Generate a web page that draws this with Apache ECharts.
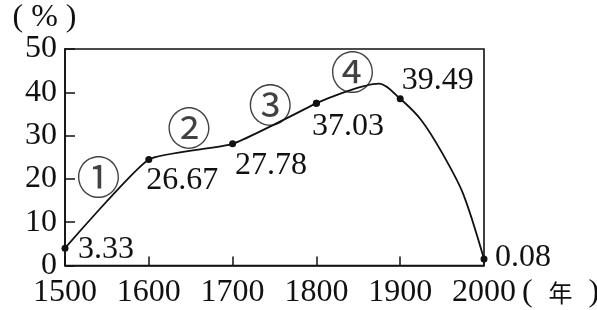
<!DOCTYPE html>
<html><head><meta charset="utf-8">
<script src="https://cdn.jsdelivr.net/npm/echarts@6/dist/echarts.min.js"></script>
<style>html,body{margin:0;padding:0;background:#fff}#c{width:597px;height:310px}</style>
</head><body><div id="c"></div>
<script>
// ---- data ----
const years = [1500, 1600, 1700, 1800, 1900, 2000];
const plotted = [4.0, 24.5, 28.1, 37.5, 38.5, 1.5];      // drawn heights of the dots
const valueLabels = ['3.33', '26.67', '27.78', '37.03', '39.49', '0.08'];
const peakPoint = [1875, 42.0];                            // top of the curve (no dot)
const fallYears = [1925, 1950, 1975];                      // curve read on the fall (no dots)
const fallValues = [33.6, 26.0, 16.6];
const stageText = ['①', '②', '③', '④'];
const stageYear = [1540, 1648, 1745, 1843];
const stageValue = [20.4, 31.6, 37.0, 44.7];
const xTicks = [1500, 1600, 1700, 1800, 1900, 2000];
const yTicks = [0, 10, 20, 30, 40, 50];
const xUnit = '年';
const yUnit = '%';

// ---- style ----
const SERIF = "'Liberation Serif','Times New Roman',serif";
const CJK = "'Noto Sans CJK SC','Noto Sans CJK JP',sans-serif";
const INK = '#111';
const labelOffsets = [[9.5, 1], [-6, 21], [-1, 21.5], [-8, 23.5], [-2, -18], [7.5, -1.5]];

const dots = years.map((y, i) => ({
  value: [y, plotted[i]],
  label: { show: true, formatter: valueLabels[i], offset: labelOffsets[i] }
}));
const noDot = p => ({ value: p, symbol: 'none', label: { show: false } });
// rising part (1500-1800) and the hump + fall (1800-2000)
const risePart = dots.slice(0, 4);
const fallPart = [Object.assign({}, dots[3], { label: { show: false } }), noDot(peakPoint), dots[4]]
  .concat(fallYears.map((y, i) => noDot([y, fallValues[i]])), [dots[5]]);

const stageData = stageText.map((t, i) => ({ value: [stageYear[i], stageValue[i]], name: t }));

const lineBase = {
  type: 'line', symbol: 'circle', symbolSize: 7,
  lineStyle: { color: INK, width: 1.8 },
  itemStyle: { color: INK },
  label: { position: 'right', distance: 0, color: INK, fontFamily: SERIF, fontSize: 32 },
  z: 3
};

const chart = echarts.init(document.getElementById('c'), null, { renderer: 'canvas' });
chart.setOption({
  animation: false,
  backgroundColor: '#fff',
  grid: { left: 65, top: 49, right: 113, bottom: 44.5, outerBoundsMode: 'none', containLabel: false,
          show: true, borderColor: INK, borderWidth: 1.6, backgroundColor: 'transparent' },
  xAxis: {
    type: 'value', min: xTicks[0], max: xTicks[xTicks.length - 1], interval: 100,
    name: '{u|(  }{c|' + xUnit + '}{u|  )}',
    nameLocation: 'end', nameGap: 32,
    nameTextStyle: {
      align: 'left', verticalAlign: 'top', padding: [11, 0, 0, 0],
      rich: {
        u: { fontSize: 32, fontFamily: SERIF, color: INK },
        c: { fontSize: 24, fontFamily: CJK, color: INK }
      }
    },
    axisLine: { show: true, lineStyle: { color: INK, width: 1.6 } },
    axisTick: { show: true, inside: true, length: 9, lineStyle: { color: INK, width: 1.5 } },
    splitLine: { show: false },
    axisLabel: {
      color: INK, fontFamily: SERIF, fontSize: 32, margin: 11,
      showMinLabel: true, showMaxLabel: true, hideOverlap: false,
      formatter: v => String(v)
    }
  },
  yAxis: {
    type: 'value', min: yTicks[0], max: yTicks[yTicks.length - 1], interval: 10,
    name: '( ' + yUnit + ' )', nameLocation: 'end', nameGap: 15,
    nameTextStyle: { color: INK, fontFamily: SERIF, fontSize: 32, padding: [0, 41, 0, 0] },
    axisLine: { show: true, lineStyle: { color: INK, width: 1.6 } },
    axisTick: { show: true, inside: true, length: 10, lineStyle: { color: INK, width: 1.5 } },
    splitLine: { show: false },
    axisLabel: { color: INK, fontFamily: SERIF, fontSize: 32, margin: 8 }
  },
  series: [
    Object.assign({}, lineBase, { data: risePart, smooth: 0.15 }),
    Object.assign({}, lineBase, { data: fallPart, smooth: 0.3 }),
    {
      type: 'scatter', data: stageData, symbolSize: 0, silent: true,
      label: { show: true, position: 'inside', formatter: p => p.name, color: INK, fontFamily: CJK, fontSize: 44 }
    }
  ]
});
</script>
</body></html>
